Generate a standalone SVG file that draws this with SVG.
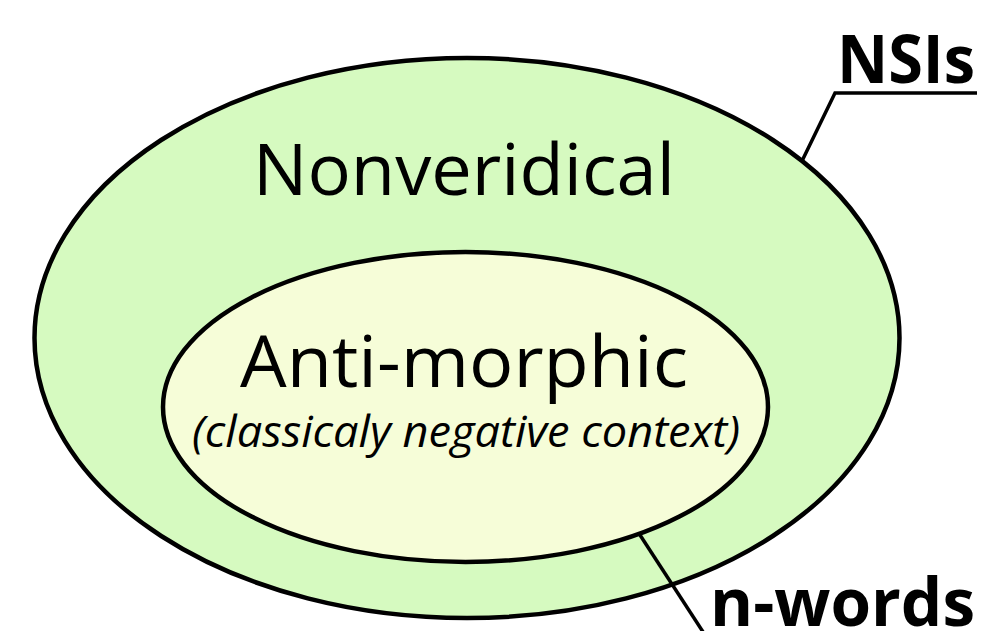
<svg xmlns="http://www.w3.org/2000/svg" width="985" height="631" viewBox="0 0 985 631">
<style>
.lbl{font-family:"Open Sans","Liberation Sans",sans-serif;fill:#000}
.big{font-size:72px}
.sub{font-size:44px;font-style:italic}
.tag{font-size:66px;font-weight:bold}
.ln{stroke:#000;stroke-width:3.5;fill:none}
</style>
<rect width="985" height="631" fill="#fff"/>
<g id="nonveridical">
<ellipse cx="467" cy="338" rx="432.5" ry="280" fill="#d6fac0" stroke="#000" stroke-width="4.5"/>
<text class="lbl big" x="253" y="195" textLength="422" lengthAdjust="spacingAndGlyphs">Nonveridical</text>
</g>
<g id="antimorphic">
<ellipse cx="465.5" cy="407" rx="302.5" ry="155" fill="#f6fdd8" stroke="#000" stroke-width="4.5"/>
<text class="lbl big" x="240" y="387" textLength="448" lengthAdjust="spacingAndGlyphs">Anti-morphic</text>
<text class="lbl sub" x="192" y="447" textLength="548" lengthAdjust="spacingAndGlyphs">(classicaly negative context)</text>
</g>
<g id="connectors">
<polyline class="ln" points="802,161 835,93 977,93"/>
<line class="ln" x1="640" y1="535" x2="707" y2="638"/>
</g>
<g id="nsis">
<text class="lbl tag" x="837" y="83" textLength="138" lengthAdjust="spacingAndGlyphs">NSIs</text>
</g>
<g id="nwords">
<text class="lbl tag" x="710" y="626" textLength="265" lengthAdjust="spacingAndGlyphs">n-words</text>
</g>
</svg>
